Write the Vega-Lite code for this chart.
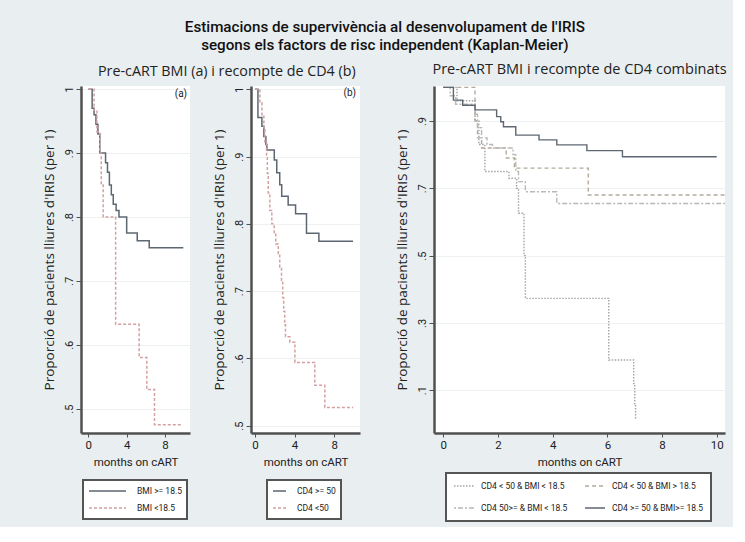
{
  "$schema": "https://vega.github.io/schema/vega-lite/v6.json",
  "background": "#e9eef0",
  "padding": {"left": 42, "top": 19, "right": 5, "bottom": 5},
  "title": {
    "text": ["Estimacions de supervivència  al desenvolupament de l'IRIS", "segons els factors de risc independent (Kaplan-Meier)"],
    "font": "Roboto", "fontSize": 15.2, "fontWeight": 500, "color": "#111", "anchor": "middle", "offset": 9, "lineHeight": 18
  },
  "datasets": {
    "p1": [
      {"t": 0, "s": 1, "g": "BMI >= 18.5"}, {"t": 0.4, "s": 0.97, "g": "BMI >= 18.5"}, {"t": 0.6, "s": 0.96, "g": "BMI >= 18.5"}, {"t": 0.8, "s": 0.945, "g": "BMI >= 18.5"}, {"t": 1.0, "s": 0.93, "g": "BMI >= 18.5"}, {"t": 1.2, "s": 0.9, "g": "BMI >= 18.5"}, {"t": 1.8, "s": 0.885, "g": "BMI >= 18.5"}, {"t": 2.0, "s": 0.87, "g": "BMI >= 18.5"}, {"t": 2.2, "s": 0.85, "g": "BMI >= 18.5"}, {"t": 2.4, "s": 0.835, "g": "BMI >= 18.5"}, {"t": 2.6, "s": 0.82, "g": "BMI >= 18.5"}, {"t": 2.9, "s": 0.81, "g": "BMI >= 18.5"}, {"t": 3.2, "s": 0.8, "g": "BMI >= 18.5"}, {"t": 4.0, "s": 0.775, "g": "BMI >= 18.5"}, {"t": 5.1, "s": 0.763, "g": "BMI >= 18.5"}, {"t": 6.35, "s": 0.752, "g": "BMI >= 18.5"}, {"t": 9.9, "s": 0.752, "g": "BMI >= 18.5"},
      {"t": 0, "s": 1, "g": "BMI <18.5"}, {"t": 0.6, "s": 0.967, "g": "BMI <18.5"}, {"t": 0.9, "s": 0.933, "g": "BMI <18.5"}, {"t": 1.2, "s": 0.9, "g": "BMI <18.5"}, {"t": 1.35, "s": 0.85, "g": "BMI <18.5"}, {"t": 1.55, "s": 0.8, "g": "BMI <18.5"}, {"t": 2.85, "s": 0.632, "g": "BMI <18.5"}, {"t": 5.3, "s": 0.58, "g": "BMI <18.5"}, {"t": 6.1, "s": 0.53, "g": "BMI <18.5"}, {"t": 6.9, "s": 0.475, "g": "BMI <18.5"}, {"t": 9.7, "s": 0.475, "g": "BMI <18.5"}
    ],
    "p2": [
      {"t": 0, "s": 1, "g": "CD4 >= 50"}, {"t": 0.3, "s": 0.958, "g": "CD4 >= 50"}, {"t": 0.7, "s": 0.945, "g": "CD4 >= 50"}, {"t": 0.9, "s": 0.93, "g": "CD4 >= 50"}, {"t": 1.1, "s": 0.918, "g": "CD4 >= 50"}, {"t": 1.2, "s": 0.91, "g": "CD4 >= 50"}, {"t": 1.95, "s": 0.895, "g": "CD4 >= 50"}, {"t": 2.2, "s": 0.876, "g": "CD4 >= 50"}, {"t": 2.5, "s": 0.858, "g": "CD4 >= 50"}, {"t": 2.7, "s": 0.841, "g": "CD4 >= 50"}, {"t": 3.35, "s": 0.828, "g": "CD4 >= 50"}, {"t": 4.1, "s": 0.815, "g": "CD4 >= 50"}, {"t": 5.2, "s": 0.786, "g": "CD4 >= 50"}, {"t": 6.45, "s": 0.774, "g": "CD4 >= 50"}, {"t": 9.9, "s": 0.774, "g": "CD4 >= 50"},
      {"t": 0, "s": 1, "g": "CD4 <50"}, {"t": 0.5, "s": 0.98, "g": "CD4 <50"}, {"t": 0.7, "s": 0.96, "g": "CD4 <50"}, {"t": 0.9, "s": 0.94, "g": "CD4 <50"}, {"t": 1.0, "s": 0.92, "g": "CD4 <50"}, {"t": 1.17, "s": 0.9, "g": "CD4 <50"}, {"t": 1.25, "s": 0.875, "g": "CD4 <50"}, {"t": 1.34, "s": 0.846, "g": "CD4 <50"}, {"t": 1.5, "s": 0.82, "g": "CD4 <50"}, {"t": 1.7, "s": 0.8, "g": "CD4 <50"}, {"t": 1.94, "s": 0.786, "g": "CD4 <50"}, {"t": 2.1, "s": 0.77, "g": "CD4 <50"}, {"t": 2.35, "s": 0.756, "g": "CD4 <50"}, {"t": 2.5, "s": 0.736, "g": "CD4 <50"}, {"t": 2.68, "s": 0.716, "g": "CD4 <50"}, {"t": 2.8, "s": 0.69, "g": "CD4 <50"}, {"t": 2.9, "s": 0.67, "g": "CD4 <50"}, {"t": 3.0, "s": 0.65, "g": "CD4 <50"}, {"t": 3.08, "s": 0.632, "g": "CD4 <50"}, {"t": 3.52, "s": 0.624, "g": "CD4 <50"}, {"t": 4.03, "s": 0.594, "g": "CD4 <50"}, {"t": 6.04, "s": 0.56, "g": "CD4 <50"}, {"t": 7.05, "s": 0.527, "g": "CD4 <50"}, {"t": 9.9, "s": 0.527, "g": "CD4 <50"}
    ],
    "p3": [
      {"t": 0, "s": 1, "g": "CD4 < 50 & BMI < 18.5"}, {"t": 0.5, "s": 0.96, "g": "CD4 < 50 & BMI < 18.5"}, {"t": 1.16, "s": 0.9, "g": "CD4 < 50 & BMI < 18.5"}, {"t": 1.3, "s": 0.83, "g": "CD4 < 50 & BMI < 18.5"}, {"t": 1.52, "s": 0.75, "g": "CD4 < 50 & BMI < 18.5"}, {"t": 2.4, "s": 0.73, "g": "CD4 < 50 & BMI < 18.5"}, {"t": 2.68, "s": 0.7, "g": "CD4 < 50 & BMI < 18.5"}, {"t": 2.75, "s": 0.626, "g": "CD4 < 50 & BMI < 18.5"}, {"t": 2.95, "s": 0.5, "g": "CD4 < 50 & BMI < 18.5"}, {"t": 3.0, "s": 0.373, "g": "CD4 < 50 & BMI < 18.5"}, {"t": 6.05, "s": 0.19, "g": "CD4 < 50 & BMI < 18.5"}, {"t": 6.96, "s": 0.12, "g": "CD4 < 50 & BMI < 18.5"}, {"t": 7.0, "s": 0.06, "g": "CD4 < 50 & BMI < 18.5"}, {"t": 7.03, "s": 0.015, "g": "CD4 < 50 & BMI < 18.5"},
      {"t": 0, "s": 1, "g": "CD4 < 50 & BMI > 18.5"}, {"t": 1.16, "s": 0.9, "g": "CD4 < 50 & BMI > 18.5"}, {"t": 1.25, "s": 0.85, "g": "CD4 < 50 & BMI > 18.5"}, {"t": 1.4, "s": 0.82, "g": "CD4 < 50 & BMI > 18.5"}, {"t": 2.3, "s": 0.79, "g": "CD4 < 50 & BMI > 18.5"}, {"t": 2.6, "s": 0.76, "g": "CD4 < 50 & BMI > 18.5"}, {"t": 5.3, "s": 0.68, "g": "CD4 < 50 & BMI > 18.5"}, {"t": 10.3, "s": 0.68, "g": "CD4 < 50 & BMI > 18.5"},
      {"t": 0, "s": 1, "g": "CD4 50>= & BMI < 18.5"}, {"t": 0.25, "s": 0.975, "g": "CD4 50>= & BMI < 18.5"}, {"t": 0.45, "s": 0.95, "g": "CD4 50>= & BMI < 18.5"}, {"t": 1.16, "s": 0.92, "g": "CD4 50>= & BMI < 18.5"}, {"t": 1.25, "s": 0.88, "g": "CD4 50>= & BMI < 18.5"}, {"t": 1.4, "s": 0.85, "g": "CD4 50>= & BMI < 18.5"}, {"t": 1.6, "s": 0.83, "g": "CD4 50>= & BMI < 18.5"}, {"t": 1.8, "s": 0.82, "g": "CD4 50>= & BMI < 18.5"}, {"t": 2.55, "s": 0.8, "g": "CD4 50>= & BMI < 18.5"}, {"t": 2.65, "s": 0.75, "g": "CD4 50>= & BMI < 18.5"}, {"t": 2.75, "s": 0.72, "g": "CD4 50>= & BMI < 18.5"}, {"t": 3.0, "s": 0.69, "g": "CD4 50>= & BMI < 18.5"}, {"t": 4.15, "s": 0.655, "g": "CD4 50>= & BMI < 18.5"}, {"t": 10.3, "s": 0.655, "g": "CD4 50>= & BMI < 18.5"},
      {"t": 0, "s": 1, "g": "CD4 >= 50 & BMI>= 18.5"}, {"t": 0.37, "s": 0.962, "g": "CD4 >= 50 & BMI>= 18.5"}, {"t": 0.71, "s": 0.947, "g": "CD4 >= 50 & BMI>= 18.5"}, {"t": 1.16, "s": 0.933, "g": "CD4 >= 50 & BMI>= 18.5"}, {"t": 1.95, "s": 0.913, "g": "CD4 >= 50 & BMI>= 18.5"}, {"t": 2.1, "s": 0.898, "g": "CD4 >= 50 & BMI>= 18.5"}, {"t": 2.2, "s": 0.883, "g": "CD4 >= 50 & BMI>= 18.5"}, {"t": 2.65, "s": 0.858, "g": "CD4 >= 50 & BMI>= 18.5"}, {"t": 3.5, "s": 0.844, "g": "CD4 >= 50 & BMI>= 18.5"}, {"t": 4.15, "s": 0.829, "g": "CD4 >= 50 & BMI>= 18.5"}, {"t": 5.25, "s": 0.812, "g": "CD4 >= 50 & BMI>= 18.5"}, {"t": 6.55, "s": 0.794, "g": "CD4 >= 50 & BMI>= 18.5"}, {"t": 10.0, "s": 0.794, "g": "CD4 >= 50 & BMI>= 18.5"}
    ]
  },
  "hconcat": [
    {
      "title": {"text": "Pre-cART BMI (a) i recompte de CD4 (b)", "dx": 56, "fontSize": 14.3},
      "spacing": 22,
      "resolve": {"scale": {"color": "independent", "strokeDash": "independent"}, "legend": {"color": "independent", "strokeDash": "independent"}},
      "hconcat": [
        {
          "width": 109, "height": 347,
          "layer": [
            {
              "data": {"name": "p1"},
              "mark": {"type": "line", "interpolate": "step-after", "strokeWidth": 1.5},
              "encoding": {
                "x": {"field": "t", "type": "quantitative", "scale": {"domain": [-0.76, 10.6], "nice": false, "zero": false}, "axis": {"values": [0, 2, 4, 6, 8, 10], "title": "months on cART"}},
                "y": {"field": "s", "type": "quantitative", "scale": {"domain": [0.462, 1.005], "nice": false, "zero": false}, "axis": {"values": [0.5, 0.6, 0.7, 0.8, 0.9, 1], "title": "Proporció de pacients lliures d'IRIS (per 1)", "labelExpr": "datum.value >= 0.999 ? '1' : substring(format(datum.value, '.1f'), 1)"}},
                "color": {"field": "g", "type": "nominal", "scale": {"domain": ["BMI >= 18.5", "BMI <18.5"], "range": ["#5d6772", "#d4a0a0"]},
                  "legend": {"orient": "none", "legendX": 2, "legendY": 394, "direction": "vertical", "title": null, "symbolSize": 1369, "clipHeight": 12, "labelOffset": 10, "rowPadding": 5, "padding": 5}},
                "strokeDash": {"field": "g", "type": "nominal", "scale": {"domain": ["BMI >= 18.5", "BMI <18.5"], "range": [[1, 0], [3, 2]]}}
              }
            },
            {
              "data": {"values": [{"lab": "(a)"}]},
              "mark": {"type": "text", "font": "Roboto", "fontSize": 10, "color": "#222"},
              "encoding": {"x": {"datum": 9.65}, "y": {"datum": 0.993}, "text": {"field": "lab"}}
            }
          ]
        },
        {
          "width": 109, "height": 347,
          "layer": [
            {
              "data": {"name": "p2"},
              "mark": {"type": "line", "interpolate": "step-after", "strokeWidth": 1.5},
              "encoding": {
                "x": {"field": "t", "type": "quantitative", "scale": {"domain": [-0.4, 10.6], "nice": false, "zero": false}, "axis": {"values": [0, 2, 4, 6, 8, 10], "title": "months on cART"}},
                "y": {"field": "s", "type": "quantitative", "scale": {"domain": [0.489, 1.005], "nice": false, "zero": false}, "axis": {"values": [0.5, 0.6, 0.7, 0.8, 0.9, 1], "title": "Proporció de pacients lliures d'IRIS (per 1)", "labelExpr": "datum.value >= 0.999 ? '1' : substring(format(datum.value, '.1f'), 1)"}},
                "color": {"field": "g", "type": "nominal", "scale": {"domain": ["CD4 >= 50", "CD4 <50"], "range": ["#5d6772", "#d4a0a0"]},
                  "legend": {"orient": "none", "legendX": 16, "legendY": 394, "direction": "vertical", "title": null, "symbolSize": 169, "clipHeight": 12, "labelOffset": 10, "rowPadding": 5, "padding": 5}},
                "strokeDash": {"field": "g", "type": "nominal", "scale": {"domain": ["CD4 >= 50", "CD4 <50"], "range": [[1, 0], [3, 2]]}}
              }
            },
            {
              "data": {"values": [{"lab": "(b)"}]},
              "mark": {"type": "text", "font": "Roboto", "fontSize": 10, "color": "#222"},
              "encoding": {"x": {"datum": 9.57}, "y": {"datum": 0.994}, "text": {"field": "lab"}}
            }
          ]
        }
      ]
    },
    {
      "title": {"text": "Pre-cART BMI i recompte de CD4 combinats", "fontSize": 14.5},
      "width": 291, "height": 347,
      "data": {"name": "p3"},
      "mark": {"type": "line", "interpolate": "step-after", "strokeWidth": 1.4},
      "encoding": {
        "x": {"field": "t", "type": "quantitative", "scale": {"domain": [-0.34, 10.3], "nice": false, "zero": false}, "axis": {"values": [0, 2, 4, 6, 8, 10], "title": "months on cART"}},
        "y": {"field": "s", "type": "quantitative", "scale": {"domain": [-0.027, 1.004], "nice": false, "zero": false}, "axis": {"values": [0.1, 0.3, 0.5, 0.7, 0.9], "title": "Proporció de pacients lliures d'IRIS (per 1)", "labelExpr": "datum.value >= 0.999 ? '1' : substring(format(datum.value, '.1f'), 1)"}},
        "color": {"field": "g", "type": "nominal", "scale": {"domain": ["CD4 < 50 & BMI < 18.5", "CD4 < 50 & BMI > 18.5", "CD4 50>= & BMI < 18.5", "CD4 >= 50 & BMI>= 18.5"], "range": ["#a4a4a4", "#b4aa9c", "#b8b8b8", "#5d6772"]},
          "legend": {"orient": "none", "legendX": 12, "legendY": 387, "columns": 2, "direction": "horizontal", "title": null, "symbolSize": 400, "clipHeight": 12, "labelOffset": 6, "columnPadding": 16, "rowPadding": 10, "padding": 7}},
        "strokeDash": {"field": "g", "type": "nominal", "scale": {"domain": ["CD4 < 50 & BMI < 18.5", "CD4 < 50 & BMI > 18.5", "CD4 50>= & BMI < 18.5", "CD4 >= 50 & BMI>= 18.5"], "range": [[1.5, 1.5], [4, 3], [2, 2, 5, 2], [1, 0]]}}
      }
    }
  ],
  "spacing": 35,
  "resolve": {"scale": {"color": "independent", "strokeDash": "independent"}, "legend": {"color": "independent", "strokeDash": "independent"}},
  "config": {
    "view": {"stroke": null, "fill": "white"},
    "axis": {"domainColor": "#505050", "domainWidth": 2.5, "tickColor": "#505050", "tickSize": 5, "labelFont": "Roboto", "labelFontSize": 11.5, "labelColor": "#222", "labelFlush": false, "labelOverlap": false, "titleFont": "Open Sans", "titleFontSize": 13.5, "titleFontWeight": "normal", "titleColor": "#222", "gridColor": "#eef1f2", "gridWidth": 1},
    "axisY": {"labelAngle": 270, "labelFontSize": 11, "titlePadding": 7, "labelPadding": 2, "grid": true},
    "axisX": {"grid": false, "tickSize": 4, "labelPadding": 2, "titleFontSize": 11.5, "titleFont": "Roboto", "titlePadding": 6},
    "title": {"font": "Open Sans", "fontSize": 13.5, "fontWeight": "normal", "color": "#222", "offset": 7},
    "legend": {"fillColor": "white", "strokeColor": "#555", "strokeWidth": 2, "symbolType": "stroke", "symbolStrokeWidth": 1.4, "labelFont": "Roboto", "labelFontSize": 8.5, "labelColor": "#222"}
  }
}
